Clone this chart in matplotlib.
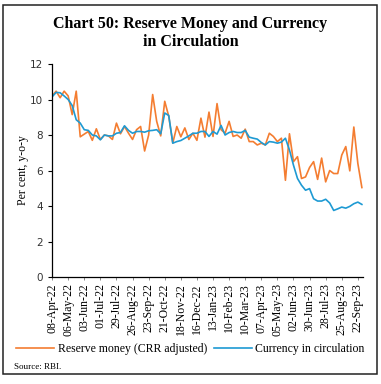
import matplotlib
matplotlib.use("Agg")
from matplotlib import pyplot as plt
from matplotlib.patches import Rectangle
import matplotlib.dates as mdates
import numpy as np
import pandas as pd

########################################
# Data (weekly, per cent y-o-y)
########################################
dates = pd.date_range("2022-04-08", periods=78, freq="7D")

reserve_money = [
    10.2, 10.47, 10.1, 10.47, 10.2, 9.15, 10.47, 7.9, 8.05, 8.2,
    7.7, 8.35, 7.75, 8.0, 7.95, 7.75, 8.67, 8.07, 8.48, 8.1,
    7.75, 8.3, 8.48, 7.1, 8.0, 10.28, 8.77, 7.95, 9.9, 9.05,
    7.55, 8.48, 7.9, 8.4, 7.75, 8.1, 7.7, 8.95, 7.88, 9.29,
    7.92, 9.77, 8.3, 8.1, 8.77, 7.92, 8.0, 7.82, 8.33, 7.63,
    7.63, 7.44, 7.54, 7.44, 8.1, 7.92, 7.63, 7.82, 5.45, 8.07,
    6.5, 6.78, 5.55, 5.64, 6.17, 6.5, 5.5, 6.7, 5.36, 6.0,
    5.83, 5.83, 6.87, 7.35, 5.98, 8.45, 6.4, 5.04,
]

currency = [
    10.15, 10.4, 10.38, 10.2, 10.0, 9.66, 8.86, 8.67, 8.3, 8.26,
    8.0, 7.95, 7.73, 8.0, 7.95, 7.95, 8.1, 8.14, 8.52, 8.26,
    8.1, 8.2, 8.2, 8.16, 8.24, 8.26, 8.3, 8.07, 9.24, 9.1,
    7.54, 7.63, 7.69, 7.82, 7.95, 8.1, 8.1, 8.2, 8.2, 7.92,
    8.2, 8.05, 8.54, 8.0, 8.14, 8.2, 8.14, 8.14, 8.26, 7.88,
    7.82, 7.77, 7.58, 7.44, 7.63, 7.6, 7.54, 7.6, 7.82, 7.16,
    6.3, 5.55, 5.17, 4.89, 4.98, 4.41, 4.28, 4.28, 4.38, 4.17,
    3.75, 3.84, 3.94, 3.88, 3.98, 4.13, 4.22, 4.09,
]

tick_dates = dates[:77:4]

orange = '#F47D31'
blue = '#1E9AD3'

serif = 'Liberation Serif'

########################################
# Plot
########################################
fig = plt.figure(figsize=(3.81, 3.84), dpi=100)
ax = fig.add_axes([0.1352, 0.2786, 0.8176, 0.5547])

ax.plot(dates, reserve_money, color=orange, lw=1.2, label='Reserve money (CRR adjusted)')
ax.plot(dates, currency, color=blue, lw=1.2, label='Currency in circulation')

ax.set_ylim(0, 12)
ax.set_yticks(np.arange(0, 13, 2))
ax.set_xlim(dates[0] - pd.Timedelta(days=1), dates[-1] + pd.Timedelta(days=2))
ax.set_xticks(tick_dates)
ax.xaxis.set_major_formatter(mdates.DateFormatter('%d-%b-%y'))
for lbl in ax.get_xticklabels():
    lbl.set_rotation(90)
    lbl.set_fontfamily(serif)
    lbl.set_fontsize(8.5)
for lbl in ax.get_yticklabels():
    lbl.set_fontfamily('DejaVu Sans')
    lbl.set_fontsize(7.5)
    lbl.set_color('#333333')

ax.spines['top'].set_visible(False)
ax.spines['right'].set_visible(False)
ax.spines['left'].set_linewidth(0.9)
ax.spines['bottom'].set_linewidth(0.9)
ax.tick_params(axis='y', length=3, width=0.8, pad=3)
ax.tick_params(axis='x', length=2.5, width=0.6, pad=2, color='#777777')

ax.set_ylabel('Per cent, y-o-y', fontfamily=serif, fontsize=8.5, labelpad=1)

fig.text(0.5, 0.914, 'Chart 50: Reserve Money and Currency\nin Circulation',
         ha='center', va='center', fontfamily=serif, fontweight='bold',
         fontsize=11.5, linespacing=1.1)

fig.legend(loc='center', bbox_to_anchor=(0.5, 0.092), ncol=2, frameon=False,
           prop={'family': serif, 'size': 8.5}, handlelength=3.2,
           handletextpad=0.3, columnspacing=0.6)

fig.text(0.037, 0.044, 'Source: RBI.', fontfamily=serif, fontsize=6.5,
         ha='left', va='center')

fig.patches.append(Rectangle((0.008, 0.026), 0.9816, 0.961, transform=fig.transFigure,
                             fill=False, edgecolor='#222222', lw=1.1))

plt.savefig('out.png', dpi=100)
